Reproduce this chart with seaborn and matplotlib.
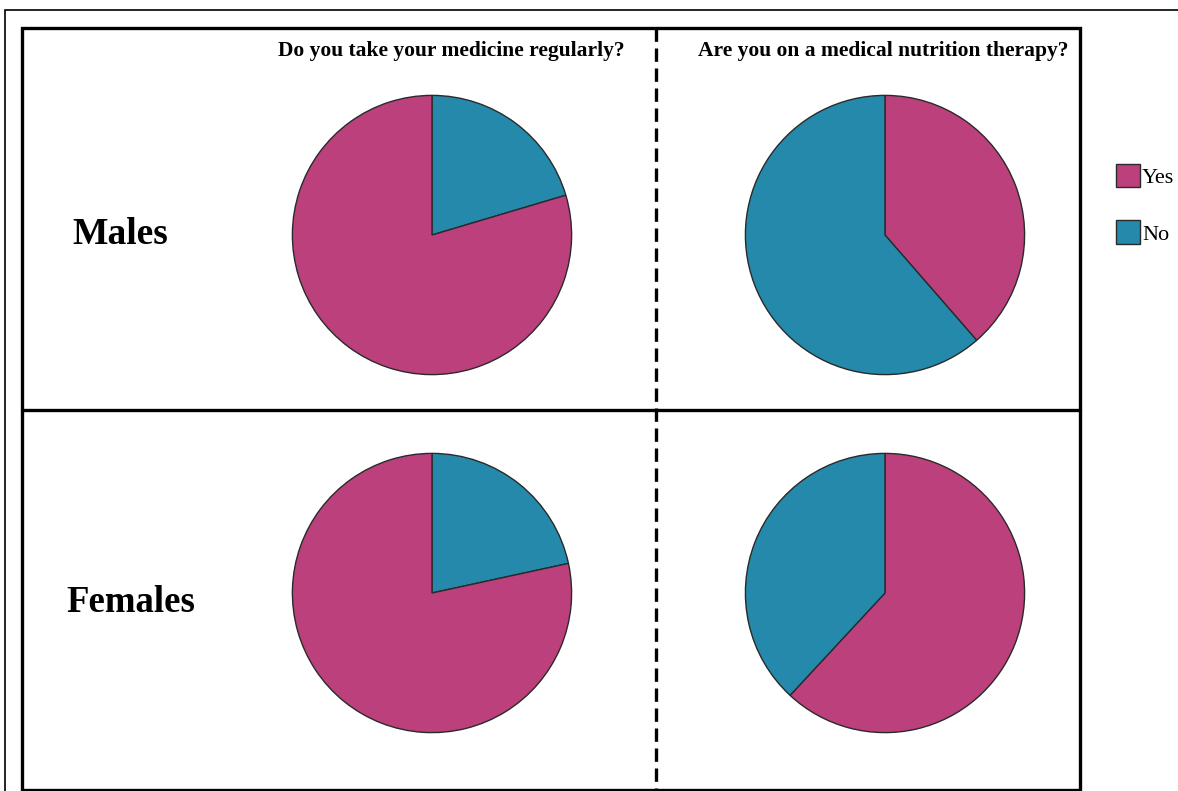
import matplotlib
matplotlib.use("Agg")
import matplotlib.pyplot as plt
import seaborn as sns
from matplotlib.patches import Rectangle, Patch
from matplotlib.lines import Line2D

# ---- data ----
labels = ["Yes", "No"]
questions = ["Do you take your medicine regularly?", "Are you on a medical nutrition therapy?"]
groups = ["Males", "Females"]
males_medicine = [79.6, 20.4]      # Yes, No
males_nutrition = [38.6, 61.4]
females_medicine = [78.4, 21.6]
females_nutrition = [61.9, 38.1]
colors = {"Yes": "#BC407C", "No": "#2489AA"}

sns.set_theme(style="white")
plt.rcParams["font.family"] = ["Liberation Serif", "DejaVu Serif"]
plt.rcParams["text.color"] = "black"

W, H = 1178, 791
fig = plt.figure(figsize=(W / 100, H / 100), dpi=100)
fig.patch.set_facecolor("white")

def fx(x):
    return x / W

def fy(y):
    return 1 - y / H

# frames
fig.add_artist(Rectangle((fx(5), fy(795)), fx(1200), 785 / H, fill=False,
                         edgecolor="black", lw=1.2, transform=fig.transFigure))
fig.add_artist(Rectangle((fx(22), fy(790)), fx(1080 - 22), 762 / H, fill=False,
                         edgecolor="black", lw=2.4, transform=fig.transFigure))
fig.add_artist(Line2D([fx(22), fx(1080)], [fy(410), fy(410)], color="black", lw=2.4,
                      transform=fig.transFigure))
fig.add_artist(Line2D([fx(656), fx(656)], [fy(28), fy(791)], color="black", lw=2.4,
                      ls=(0, (4, 2)), transform=fig.transFigure))

R = 141
centers = [(432, 235), (885, 235), (432, 593), (885, 593)]
pie_data = [
    (["No", "Yes"], [males_medicine[1], males_medicine[0]]),
    (["Yes", "No"], males_nutrition),
    (["No", "Yes"], [females_medicine[1], females_medicine[0]]),
    (["Yes", "No"], females_nutrition),
]

for (cx, cy), (labs, vals) in zip(centers, pie_data):
    ax = fig.add_axes([fx(cx - R), fy(cy + R), fx(2 * R), 2 * R / H])
    ax.pie(vals, colors=[colors[l] for l in labs], startangle=90, counterclock=False,
           wedgeprops=dict(edgecolor="#2a2a2a", linewidth=1.0), radius=1.0)
    ax.set_xlim(-1.01, 1.01)
    ax.set_ylim(-1.01, 1.01)
    ax.set_aspect("equal")
    ax.axis("off")

# titles
fig.text(fx(451), fy(51), questions[0], ha="center", va="center", fontsize=15.5,
         fontweight="bold")
fig.text(fx(883), fy(51), questions[1], ha="center", va="center", fontsize=15.5,
         fontweight="bold")
fig.text(fx(72), fy(235), groups[0], ha="left", va="center", fontsize=27, fontweight="bold")
fig.text(fx(66), fy(603), groups[1], ha="left", va="center", fontsize=26.5, fontweight="bold")

# legend
handles = [Patch(facecolor=colors[l], edgecolor="#2a2a2a", lw=1.0, label=l) for l in labels]
fig.legend(handles=handles, loc="upper left", bbox_to_anchor=(fx(1107), fy(155)),
           frameon=False, fontsize=16, handlelength=1.08, handleheight=1.25,
           handletextpad=0.1, labelspacing=1.45, borderaxespad=0)

fig.savefig("out.png", dpi=100)
